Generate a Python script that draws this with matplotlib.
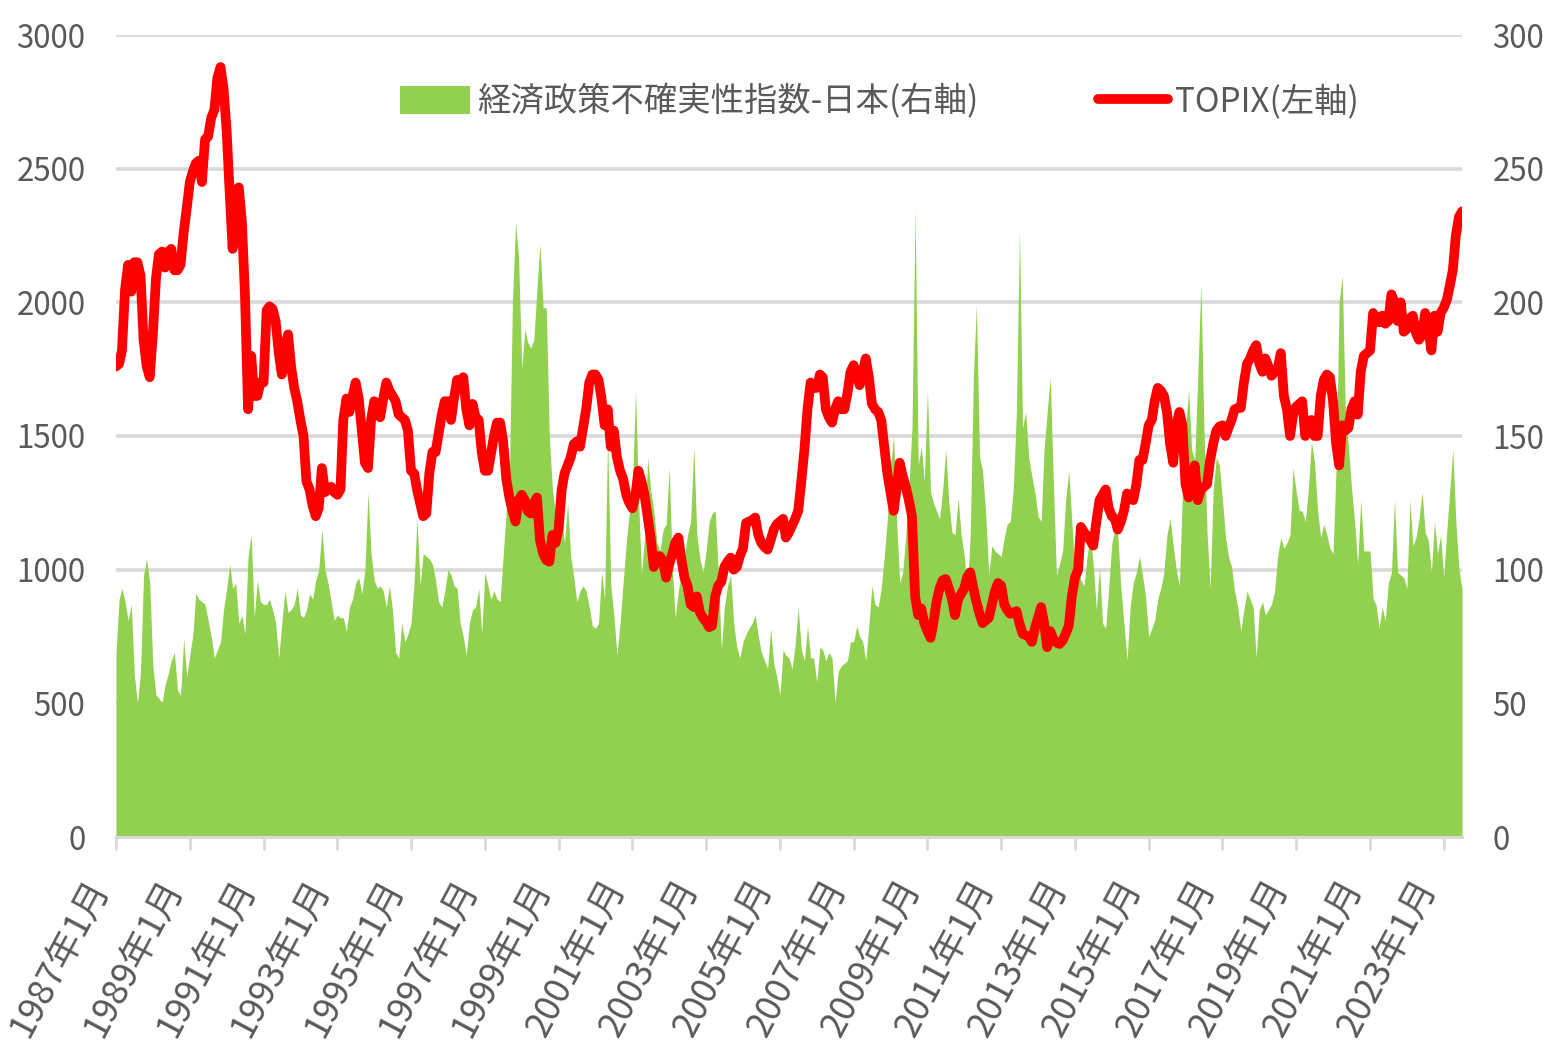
import matplotlib
matplotlib.use('Agg')
import matplotlib.pyplot as plt
import matplotlib.patches as mpatches
import matplotlib.lines as mlines
import pandas as pd

# ---- data (monthly, 1987-01 .. 2023-07) ----
start_month = '1987-01-01'

topix = [
    1760, 1770, 1820, 2050, 2140, 2040, 2150, 2150, 2100, 1860, 1760, 1720,  # 1987
    1880, 2090, 2180, 2190, 2130, 2190, 2200, 2120, 2120, 2140, 2260, 2350,  # 1988
    2450, 2490, 2520, 2530, 2450, 2610, 2620, 2690, 2720, 2840, 2880, 2800,  # 1989
    2640, 2400, 2200, 2420, 2430, 2300, 2030, 1600, 1800, 1650, 1650, 1700,  # 1990
    1700, 1970, 1985, 1975, 1930, 1810, 1730, 1830, 1880, 1760, 1680, 1630,  # 1991
    1560, 1500, 1330, 1300, 1240, 1200, 1230, 1380, 1290, 1300, 1310, 1290,  # 1992
    1280, 1300, 1560, 1640, 1590, 1650, 1700, 1640, 1520, 1400, 1380, 1560,  # 1993
    1630, 1620, 1570, 1640, 1700, 1670, 1650, 1630, 1580, 1570, 1560, 1520,  # 1994
    1370, 1360, 1300, 1250, 1200, 1210, 1360, 1440, 1440, 1510, 1580, 1630,  # 1995
    1630, 1560, 1640, 1710, 1700, 1720, 1600, 1540, 1620, 1570, 1560, 1440,  # 1996
    1370, 1370, 1430, 1500, 1550, 1550, 1480, 1340, 1270, 1220, 1180, 1260,  # 1997
    1280, 1260, 1220, 1210, 1250, 1270, 1110, 1060, 1036, 1030, 1130, 1100,  # 1998
    1150, 1300, 1360, 1390, 1420, 1470, 1480, 1460, 1530, 1600, 1700, 1730,  # 1999
    1730, 1710, 1640, 1540, 1600, 1460, 1520, 1420, 1370, 1340, 1280, 1250,  # 2000
    1230, 1280, 1370, 1330, 1280, 1200, 1120, 1010, 1050, 1050, 1030, 970,   # 2001
    1020, 1060, 1100, 1120, 1040, 970, 940, 870, 860, 900, 840, 820,         # 2002
    805, 785, 790, 900, 940, 955, 1010, 1030, 1045, 1000, 1010, 1050,        # 2003
    1080, 1175, 1180, 1185, 1195, 1130, 1100, 1085, 1075, 1110, 1150, 1170,  # 2004
    1180, 1190, 1120, 1140, 1165, 1190, 1220, 1330, 1450, 1600, 1700, 1680,  # 2005
    1680, 1730, 1720, 1600, 1570, 1550, 1600, 1630, 1600, 1600, 1660, 1740,  # 2006
    1765, 1730, 1690, 1740, 1790, 1720, 1620, 1600, 1590, 1560, 1460, 1360,  # 2007
    1290, 1220, 1300, 1400, 1350, 1310, 1260, 1200, 900, 830, 855, 800,      # 2008
    770, 745, 800, 880, 930, 960, 965, 930, 890, 830, 890, 910,              # 2009
    930, 975, 990, 930, 880, 835, 800, 810, 820, 870, 920, 950,              # 2010
    940, 870, 850, 835, 840, 845, 800, 760, 755, 750, 730, 780,              # 2011
    820, 860, 800, 710, 770, 740, 727, 722, 735, 760, 790, 900,              # 2012
    970, 1000, 1160, 1140, 1126, 1110, 1090, 1180, 1260, 1280, 1300, 1230,   # 2013
    1200, 1190, 1150, 1180, 1220, 1285, 1270, 1260, 1320, 1410, 1410, 1470,  # 2014
    1540, 1560, 1630, 1680, 1670, 1650, 1590, 1470, 1400, 1540, 1590, 1540,  # 2015
    1320, 1270, 1330, 1390, 1260, 1300, 1310, 1320, 1410, 1470, 1520, 1535,  # 2016
    1540, 1500, 1530, 1560, 1600, 1605, 1605, 1700, 1770, 1790, 1820, 1840,  # 2017
    1770, 1740, 1790, 1760, 1725, 1740, 1750, 1810, 1650, 1600, 1500, 1580,  # 2018
    1610, 1620, 1630, 1500, 1540, 1560, 1500, 1500, 1650, 1710, 1730, 1720,  # 2019
    1630, 1470, 1390, 1540, 1520, 1530, 1600, 1630, 1580, 1740, 1800, 1810,  # 2020
    1820, 1960, 1940, 1925, 1950, 1920, 1930, 2030, 2000, 1930, 2000, 1890,  # 2021
    1900, 1940, 1950, 1885, 1860, 1880, 1960, 1900, 1820, 1950, 1890, 1960,  # 2022
    1980, 2010, 2060, 2120, 2250, 2320, 2340,                                # 2023
]

epu_japan = [
    69, 89, 93, 88, 81, 87, 61, 50, 62, 98, 104, 95,          # 1987
    64, 53, 52, 50, 57, 61, 66, 69, 55, 53, 74, 60,           # 1988
    68, 76, 91, 89, 88, 87, 81, 75, 67, 70, 73, 85,           # 1989
    93, 102, 93, 95, 80, 83, 76, 105, 113, 82, 96, 88,        # 1990
    87, 87, 89, 85, 80, 67, 80, 92, 84, 85, 87, 93,           # 1991
    83, 82, 85, 91, 89, 96, 100, 115, 100, 95, 88, 81,        # 1992
    83, 82, 82, 77, 86, 89, 95, 97, 91, 100, 129, 106,        # 1993
    96, 93, 94, 92, 86, 94, 85, 69, 67, 80, 73, 76,           # 1994
    80, 96, 119, 94, 106, 105, 104, 102, 96, 88, 86, 92,      # 1995
    100, 98, 94, 93, 80, 75, 68, 80, 85, 86, 93, 76,          # 1996
    99, 94, 89, 92, 89, 88, 105, 122, 135, 200, 230, 217,     # 1997
    175, 190, 185, 183, 186, 205, 222, 198, 198, 150, 130, 121,  # 1998
    115, 118, 110, 125, 105, 97, 88, 92, 94, 92, 86, 79,      # 1999
    78, 80, 99, 89, 150, 94, 83, 68, 80, 95, 110, 121,        # 2000
    130, 167, 128, 98, 112, 142, 130, 122, 110, 107, 115, 117,  # 2001
    138, 100, 82, 92, 99, 105, 113, 118, 146, 113, 104, 99,   # 2002
    107, 118, 121, 122, 100, 70, 86, 94, 98, 80, 71, 67,      # 2003
    73, 76, 78, 80, 83, 75, 69, 66, 63, 78, 65, 60,           # 2004
    53, 70, 68, 67, 63, 72, 86, 70, 66, 79, 67, 67,           # 2005
    58, 71, 70, 66, 69, 67, 50, 62, 64, 65, 66, 73,           # 2006
    73, 79, 75, 73, 66, 79, 94, 87, 86, 93, 105, 119,         # 2007
    138, 150, 119, 95, 99, 113, 131, 153, 235, 139, 146, 133,  # 2008
    167, 129, 125, 122, 119, 130, 145, 125, 114, 113, 127, 113,  # 2009
    105, 93, 113, 172, 199, 142, 137, 121, 98, 109, 107, 106,  # 2010
    105, 112, 117, 118, 130, 159, 227, 153, 159, 142, 135, 129,  # 2011
    120, 118, 145, 159, 172, 133, 98, 102, 107, 126, 137, 118,  # 2012
    99, 101, 96, 94, 105, 113, 102, 85, 101, 80, 78, 93,      # 2013
    110, 115, 113, 93, 80, 66, 86, 95, 99, 105, 98, 90,       # 2014
    75, 78, 81, 89, 93, 99, 113, 119, 109, 100, 94, 129,      # 2015
    153, 167, 145, 141, 172, 207, 153, 114, 93, 130, 142, 139,  # 2016
    126, 112, 105, 101, 92, 86, 77, 85, 92, 89, 86, 67,       # 2017
    85, 88, 83, 85, 87, 92, 105, 112, 108, 110, 113, 138,     # 2018
    129, 122, 122, 118, 130, 148, 140, 122, 112, 117, 113, 108,  # 2019
    106, 139, 200, 210, 160, 146, 131, 118, 102, 126, 107, 107,  # 2020
    107, 89, 87, 78, 86, 81, 95, 99, 126, 99, 98, 97,         # 2021
    93, 126, 109, 112, 119, 129, 114, 111, 99, 118, 106, 113,  # 2022
    97, 115, 129, 145, 118, 100, 93,                          # 2023
]

tick_years = list(range(1987, 2024, 2))
tick_labels = [f'{y}年1月' for y in tick_years]
left_ticks = [0, 500, 1000, 1500, 2000, 2500, 3000]
right_ticks = [0, 50, 100, 150, 200, 250, 300]
legend_labels = ['経済政策不確実性指数-日本(右軸)', 'TOPIX(左軸)']

# ---- style ----
plt.rcParams['font.family'] = ['Noto Sans CJK JP', 'DejaVu Sans']
GREEN = '#92d050'
RED = '#ff0000'
GRID = '#d9d9d9'
TXT = '#595959'

dates = pd.date_range(start_month, periods=len(topix), freq='MS')

W, H = 1544, 1064
fig = plt.figure(figsize=(W / 100, H / 100), dpi=100)
ax = fig.add_axes([116 / W, 227 / H, 1346 / W, 802 / H])
ax2 = ax.twinx()
ax.set_zorder(3)
ax2.set_zorder(2)
ax.patch.set_visible(False)

# EPU area (right axis)
ax2.fill_between(dates, epu_japan, 0, color=GREEN, lw=0, zorder=2)
ax2.set_ylim(0, 300)
ax2.set_yticks(right_ticks)
ax2.set_axisbelow(True)
ax2.grid(axis='y', color=GRID, lw=2.6)

# TOPIX line (left axis)
ax.plot(dates, topix, color=RED, lw=7, solid_joinstyle='round',
        solid_capstyle='round')
ax.set_ylim(0, 3000)
ax.set_yticks(left_ticks)
ax.set_xlim(dates[0], dates[-1])

ax.set_xticks([pd.Timestamp(f'{y}-01-01') for y in tick_years])
ax.set_xticklabels(tick_labels, rotation=62, ha='right', va='top')

for a in (ax, ax2):
    for s in ('top', 'left', 'right'):
        a.spines[s].set_visible(False)
ax2.spines['bottom'].set_visible(False)
ax.spines['bottom'].set_color(GRID)
ax.spines['bottom'].set_linewidth(2.2)

ax.tick_params(axis='x', length=9, width=2, color=GRID, pad=17,
               labelsize=26, labelcolor=TXT)
ax.tick_params(axis='y', length=0, pad=22, labelsize=22.5, labelcolor=TXT)
ax2.tick_params(axis='y', length=0, pad=22, labelsize=22.5, labelcolor=TXT)

handles = [mpatches.Patch(color=GREEN, lw=0),
           mlines.Line2D([], [], color=RED, lw=7, solid_capstyle='round')]
fig.legend(handles, legend_labels, loc='center left',
           bbox_to_anchor=(400 / W, 1 - 102 / H), ncol=2, frameon=False,
           fontsize=24, labelcolor=TXT, handlelength=2.1, handleheight=0.9,
           handletextpad=0.2, columnspacing=3.6, borderpad=0, borderaxespad=0)

fig.savefig('out.png', dpi=100, facecolor='white')
